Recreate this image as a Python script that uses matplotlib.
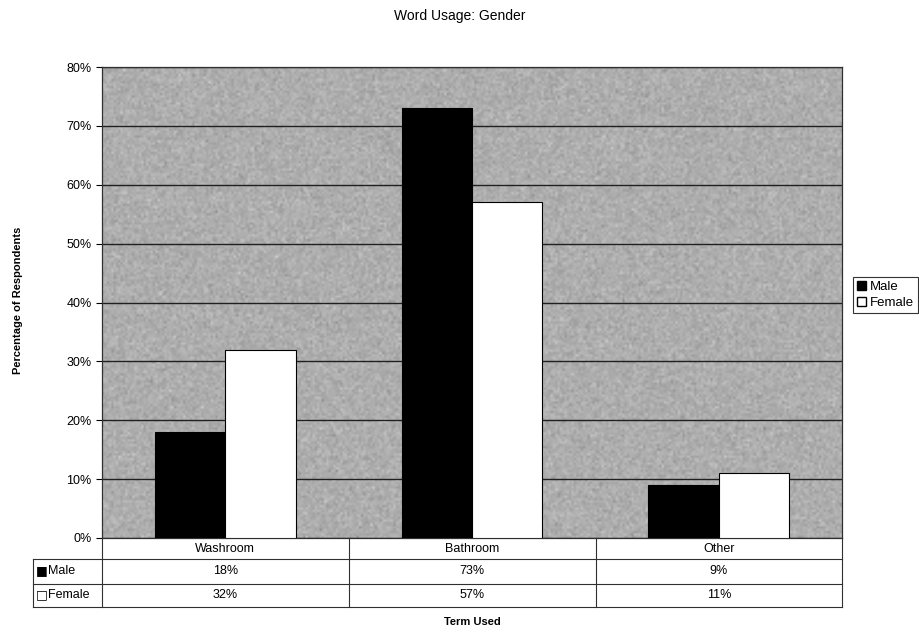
import numpy as np
import matplotlib.pyplot as plt
from matplotlib.patches import Patch
from matplotlib.lines import Line2D

plt.rcParams['font.family'] = ['Liberation Sans', 'DejaVu Sans']

# survey results (percent)
terms = ['Washroom', 'Bathroom', 'Other']
male = [18, 73, 9]
female = [32, 57, 11]
yticks = [0, 10, 20, 30, 40, 50, 60, 70, 80]

W, H = 919, 633
fig = plt.figure(figsize=(W / 100, H / 100), dpi=100)
ax = fig.add_axes([102 / W, 1 - 538 / H, 740 / W, 471 / H])

# grainy grey plot background
rng = np.random.default_rng(3)
tex = 0.68 + 0.035 * rng.standard_normal((200, 320))
ax.imshow(tex, cmap='gray', vmin=0, vmax=1, extent=[0, 3, 0, 80],
          aspect='auto', zorder=0, interpolation='bilinear')

x = np.arange(len(terms)) + 0.5
bw = 0.285
ax.bar(x - bw / 2, male, bw, color='black', edgecolor='black', lw=0.8, zorder=3)
ax.bar(x + bw / 2, female, bw, color='white', edgecolor='black', lw=0.8, zorder=3)

ax.set_xlim(0, 3)
ax.set_ylim(0, 80)
ax.set_yticks(yticks)
ax.set_yticklabels([f'{v}%' for v in yticks], fontsize=9)
ax.yaxis.grid(True, color='#202020', lw=1.0, zorder=1)
ax.set_axisbelow(True)
ax.set_xticks([])
for s in ax.spines.values():
    s.set_color('#303030')
    s.set_linewidth(0.9)
ax.tick_params(axis='y', length=4, width=0.8)

fig.text(0.5, 1 - 16 / H, 'Word Usage: Gender', ha='center', va='center', fontsize=10)
fig.text(18 / W, 1 - 300 / H, 'Percentage of Respondents', rotation=90,
         ha='center', va='center', fontsize=8, fontweight='bold')
fig.text(472 / W, 1 - 622 / H, 'Term Used', ha='center', va='center',
         fontsize=8, fontweight='bold')

# data table under the axis
def fy(py):
    return 1 - py / H

def fx(px):
    return px / W

lc = '#303030'
rows = [538, 559, 584, 607]
for py in rows[1:]:
    fig.add_artist(Line2D([fx(33), fx(842)], [fy(py), fy(py)], color=lc, lw=0.8))
for px in [102, 349, 596, 842]:
    fig.add_artist(Line2D([fx(px), fx(px)], [fy(538), fy(607)], color=lc, lw=0.8))
fig.add_artist(Line2D([fx(33), fx(33)], [fy(559), fy(607)], color=lc, lw=0.8))

for i, t in enumerate(terms):
    cx = 102 + 246.7 * (i + 0.5)
    fig.text(fx(cx), fy(549), t, ha='center', va='center', fontsize=9)
    fig.text(fx(cx), fy(571), f'{male[i]}%', ha='center', va='center', fontsize=9)
    fig.text(fx(cx), fy(595), f'{female[i]}%', ha='center', va='center', fontsize=9)

fig.text(fx(36), fy(571), '\u25a0', ha='left', va='center', fontsize=9, family='DejaVu Sans')
fig.text(fx(48), fy(571), 'Male', ha='left', va='center', fontsize=9)
fig.text(fx(36), fy(595), '\u25a1', ha='left', va='center', fontsize=9, family='DejaVu Sans')
fig.text(fx(48), fy(595), 'Female', ha='left', va='center', fontsize=9)

handles = [Patch(facecolor='black', edgecolor='black', label='Male'),
           Patch(facecolor='white', edgecolor='black', label='Female')]
leg = fig.legend(handles=handles, loc='upper left', bbox_to_anchor=(853 / W, fy(277)),
                 fontsize=9.5, frameon=True, fancybox=False, handlelength=0.7,
                 handleheight=0.7, handletextpad=0.3, borderpad=0.3,
                 labelspacing=0.3, borderaxespad=0)
leg.get_frame().set_edgecolor('black')
leg.get_frame().set_linewidth(0.8)

fig.savefig('out.png', dpi=100)
